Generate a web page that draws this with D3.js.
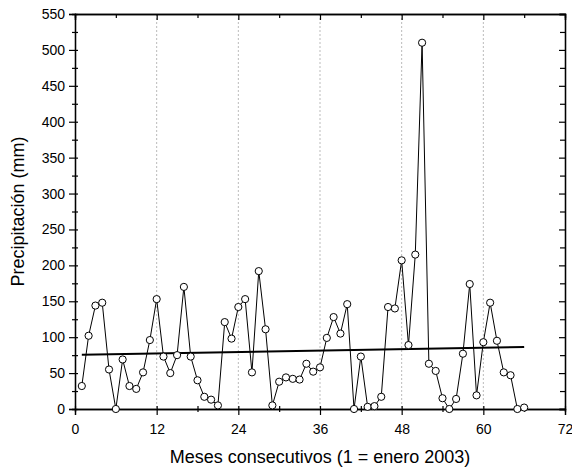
<!DOCTYPE html>
<meta charset="utf-8">
<style>
  body { margin: 0; background: #fff; }
  text { font-family: Arial, "Liberation Sans", sans-serif; fill: #000; }
  text.axis-title { font-size: 18px; }
</style>
<script src="https://d3js.org/d3.v7.min.js"></script>
<div id="chart"></div>
<script>
  // months 1..66 (1 = enero 2003)
  var months = d3.range(1, 67);
  var precip = [32, 102, 144, 148, 55, 0, 69, 32, 28, 51, 96, 153,
                73, 50, 75, 170, 73, 40, 17, 13, 5, 121, 98, 142,
                153, 51, 192, 111, 5, 38, 44, 42, 41, 63, 52, 58,
                99, 128, 105, 146, 0, 73, 3, 4, 17, 142, 140, 207,
                89, 215, 510, 63, 53, 15, 0, 14, 77, 174, 19, 93,
                148, 95, 51, 47, 0, 2];
  // linear trend line end points
  var trendX = [1, 66];
  var trendY = [75.5, 86.5];

  var xMajor = [0, 12, 24, 36, 48, 60, 72];
  var xMinor = [6, 18, 30, 42, 54, 66];
  var gridX = [12, 24, 36, 48, 60];
  var yMajor = d3.range(0, 551, 50);
  var yMinor = d3.range(25, 550, 50);

  var margin = {top: 14, right: 7, bottom: 61, left: 75},
      width = 572 - margin.left - margin.right,
      height = 470 - margin.top - margin.bottom;

  var svg = d3.select("#chart")
    .append("svg")
      .attr("width", 572)
      .attr("height", 470)
    .append("g")
      .attr("transform", "translate(" + margin.left + "," + margin.top + ")");

  var x = d3.scaleLinear().domain([0, 72]).range([0, width]);
  var y = d3.scaleLinear().domain([0, 550]).range([height, 0]);

  // dotted vertical grid
  svg.append("g").selectAll("line")
    .data(gridX)
    .enter().append("line")
      .attr("x1", function(d) { return x(d); })
      .attr("x2", function(d) { return x(d); })
      .attr("y1", 0)
      .attr("y2", height)
      .attr("stroke", "#bbb")
      .attr("stroke-width", 1)
      .attr("stroke-dasharray", "2,2");

  // bottom axis: major ticks in & out
  var bottom = svg.append("g")
    .attr("transform", "translate(0," + height + ")")
    .call(d3.axisBottom(x).tickValues(xMajor).tickSize(6).tickPadding(9).tickFormat(d3.format("d")));
  bottom.selectAll(".tick line").attr("y1", -3);
  svg.append("g")
    .attr("transform", "translate(0," + height + ")")
    .call(d3.axisBottom(x).tickValues(xMinor).tickSize(3).tickFormat(""))
    .selectAll(".tick line").attr("y1", -3);

  // left axis
  var left = svg.append("g")
    .call(d3.axisLeft(y).tickValues(yMajor).tickSize(6).tickPadding(4));
  left.selectAll(".tick line").attr("x1", 3);
  svg.append("g")
    .call(d3.axisLeft(y).tickValues(yMinor).tickSize(3).tickFormat(""))
    .selectAll(".tick line").attr("x1", 3);

  // top and right axes, ticks pointing inward
  svg.append("g")
    .call(d3.axisBottom(x).tickValues(xMajor).tickSize(6).tickFormat(""));
  svg.append("g")
    .call(d3.axisBottom(x).tickValues(xMinor).tickSize(4).tickFormat(""));
  svg.append("g")
    .attr("transform", "translate(" + width + ",0)")
    .call(d3.axisLeft(y).tickValues(yMajor).tickSize(6).tickFormat(""));
  svg.append("g")
    .attr("transform", "translate(" + width + ",0)")
    .call(d3.axisLeft(y).tickValues(yMinor).tickSize(5).tickFormat(""));

  svg.selectAll(".domain").attr("stroke", "#000").attr("stroke-width", 1.3);
  svg.selectAll(".tick line").attr("stroke", "#000").attr("stroke-width", 1.2);
  svg.selectAll(".tick text")
    .style("font-size", "14px")
    .style("font-family", "Arial, 'Liberation Sans', sans-serif");

  // trend line
  var trend = trendX.map(function(d, i) { return [d, trendY[i]]; });
  svg.append("path")
    .datum(trend)
    .attr("fill", "none")
    .attr("stroke", "#000")
    .attr("stroke-width", 2)
    .attr("d", d3.line()
      .x(function(d) { return x(d[0]); })
      .y(function(d) { return y(d[1]); }));

  // data line
  var data = months.map(function(m, i) { return {m: m, v: precip[i]}; });
  svg.append("path")
    .datum(data)
    .attr("fill", "none")
    .attr("stroke", "#000")
    .attr("stroke-width", 1)
    .attr("d", d3.line()
      .x(function(d) { return x(d.m); })
      .y(function(d) { return y(d.v); }));

  svg.append("g").selectAll("circle")
    .data(data)
    .enter().append("circle")
      .attr("cx", function(d) { return x(d.m); })
      .attr("cy", function(d) { return y(d.v); })
      .attr("r", 3.6)
      .attr("fill", "#fff")
      .attr("stroke", "#000")
      .attr("stroke-width", 1);

  // axis titles
  svg.append("text")
    .attr("class", "axis-title")
    .attr("x", width / 2)
    .attr("y", height + 54)
    .attr("text-anchor", "middle")
    .text("Meses consecutivos (1 = enero 2003)");

  svg.append("text")
    .attr("class", "axis-title")
    .attr("transform", "rotate(-90)")
    .attr("x", -height / 2)
    .attr("y", -51)
    .attr("text-anchor", "middle")
    .text("Precipitación (mm)");
</script>
